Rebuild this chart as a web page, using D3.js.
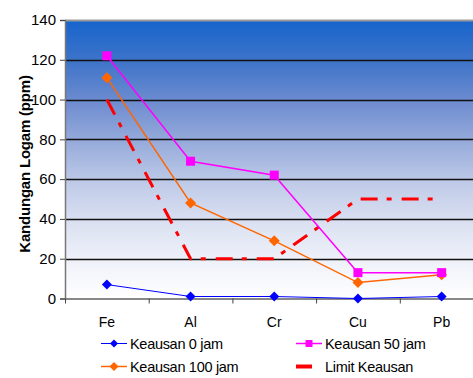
<!DOCTYPE html>
<html>
<head>
<meta charset="utf-8">
<script src="https://cdn.jsdelivr.net/npm/d3@7/dist/d3.min.js"></script>
<style>
  html, body { margin: 0; padding: 0; background: #fff; overflow: hidden; }
  svg { display: block; font-family: "Liberation Sans", Arial, sans-serif; }
</style>
</head>
<body>
<svg id="chart" width="473" height="378"></svg>
<script>
// Metal content per element (ppm)
const categories = ["Fe", "Al", "Cr", "Cu", "Pb"];
const wear0 = [7, 1, 1, 0, 1];          // Keausan 0 jam
const wear50 = [122, 69, 62, 13, 13];   // Keausan 50 jam
const wear100 = [111, 48, 29, 8, 12];   // Keausan 100 jam
const limitWear = [100, 20, 20, 50, 50];// Limit Keausan
const yTicks = [0, 20, 40, 60, 80, 100, 120, 140];

const seriesList = [
  { name: "Keausan 0 jam", values: wear0, color: "#0000ff", width: 1, marker: "diamond", size: 5 },
  { name: "Keausan 50 jam", values: wear50, color: "#ff00ff", width: 1.5, marker: "square", size: 4.5 },
  { name: "Keausan 100 jam", values: wear100, color: "#ff6600", width: 1.5, marker: "diamond", size: 5.5 },
  { name: "Limit Keausan", values: limitWear, color: "#ff0000", width: 3, marker: null, dash: "17,9,5,10" }
];

const svg = d3.select("#chart");
const plotLeft = 65, plotTop = 20, plotBottom = 298.5, plotRight = 483.5;

const x = d3.scaleBand().domain(categories).range([plotLeft, plotRight]);
const y = d3.scaleLinear().domain([0, 140]).range([plotBottom, plotTop]);

// Plot background gradient
const defs = svg.append("defs");
const grad = defs.append("linearGradient").attr("id", "bg")
  .attr("x1", 0).attr("y1", 0).attr("x2", 0).attr("y2", 1);
[[0, "#1664cc"], [0.15, "#3f74c9"], [0.3, "#6f8dd0"], [0.45, "#9aaedc"],
 [0.6, "#c2cde9"], [0.75, "#dfe4f3"], [0.88, "#f1f3fa"], [1, "#ffffff"]]
  .forEach(([o, c]) => grad.append("stop").attr("offset", o).attr("stop-color", c));

svg.append("rect")
  .attr("x", plotLeft).attr("y", plotTop)
  .attr("width", plotRight - plotLeft).attr("height", plotBottom - plotTop)
  .attr("fill", "url(#bg)");

// Horizontal gridlines
svg.append("g").selectAll("line").data(yTicks.filter(d => d > 0)).join("line")
  .attr("x1", plotLeft).attr("x2", plotRight)
  .attr("y1", d => Math.round(y(d)) + 0.5).attr("y2", d => Math.round(y(d)) + 0.5)
  .attr("stroke", d => d === 140 ? "#999" : "#111")
  .attr("stroke-width", d => d === 140 ? 2 : 1.5);

// Y axis
const yAxis = svg.append("g")
  .attr("transform", `translate(${plotLeft},0)`)
  .call(d3.axisLeft(y).tickValues(yTicks).tickSize(5).tickPadding(4));
yAxis.select(".domain").attr("stroke", "#777").attr("stroke-width", 1.5);
yAxis.selectAll(".tick line").attr("stroke", "#444");
yAxis.selectAll(".tick text")
  .attr("font-size", 15).attr("fill", "#000")
  .attr("font-family", "Liberation Sans, Arial, sans-serif");

// X axis
const xAxis = svg.append("g")
  .attr("transform", `translate(0,${plotBottom})`)
  .call(d3.axisBottom(x).tickSize(0).tickPadding(19));
xAxis.select(".domain").attr("stroke", "#888").attr("stroke-width", 2);
xAxis.selectAll(".tick text")
  .attr("font-size", 14).attr("fill", "#000")
  .attr("font-family", "Liberation Sans, Arial, sans-serif");
// Category separators
svg.append("g").selectAll("line").data(categories).join("line")
  .attr("x1", d => x(d) + 0.5).attr("x2", d => x(d) + 0.5)
  .attr("y1", plotBottom).attr("y2", plotBottom + 5)
  .attr("stroke", "#444");

// Y axis title
svg.append("text")
  .attr("transform", `translate(29.5,164) rotate(-90)`)
  .attr("text-anchor", "middle")
  .attr("font-size", 15).attr("font-weight", "bold")
  .attr("letter-spacing", -0.2)
  .text("Kandungan Logam (ppm)");

// Series lines and markers
const cx = d => x(d) + x.bandwidth() / 2;
const line = d3.line().x((d, i) => cx(categories[i])).y(d => y(d));

function drawMarker(g, type, px, py, s, color) {
  if (type === "diamond") {
    g.append("path")
      .attr("d", `M${px},${py - s}L${px + s},${py}L${px},${py + s}L${px - s},${py}Z`)
      .attr("fill", color);
  } else if (type === "square") {
    g.append("rect")
      .attr("x", px - s).attr("y", py - s)
      .attr("width", 2 * s).attr("height", 2 * s)
      .attr("fill", color);
  }
}

const plot = svg.append("g");
// Draw limit first, then the wear series on top
[3, 0, 2, 1].forEach(k => {
  const s = seriesList[k];
  plot.append("path")
    .attr("d", line(s.values))
    .attr("fill", "none")
    .attr("stroke", s.color)
    .attr("stroke-width", s.width)
    .attr("stroke-dasharray", s.dash || null);
  if (s.marker) {
    s.values.forEach((v, i) => drawMarker(plot, s.marker, cx(categories[i]), y(v), s.size, s.color));
  }
});

// Legend
const legendPos = [
  { x: 101, y: 343.5 }, { x: 296, y: 343.5 },
  { x: 101, y: 366.5 }, { x: 296, y: 366.5 }
];
seriesList.forEach((s, j) => {
  const p = legendPos[j];
  const g = svg.append("g");
  if (s.marker) {
    g.append("line")
      .attr("x1", p.x).attr("x2", p.x + 26)
      .attr("y1", p.y).attr("y2", p.y)
      .attr("stroke", s.color).attr("stroke-width", s.width);
    drawMarker(g, s.marker, p.x + 13, p.y, s.size - 1, s.color);
  } else {
    g.append("line")
      .attr("x1", p.x).attr("x2", p.x + 16)
      .attr("y1", p.y).attr("y2", p.y)
      .attr("stroke", s.color).attr("stroke-width", 4);
  }
  g.append("text")
    .attr("x", p.x + 29).attr("y", p.y + 5)
    .attr("font-size", 14.5)
    .attr("letter-spacing", -0.3)
    .text(s.name);
});
</script>
</body>
</html>
